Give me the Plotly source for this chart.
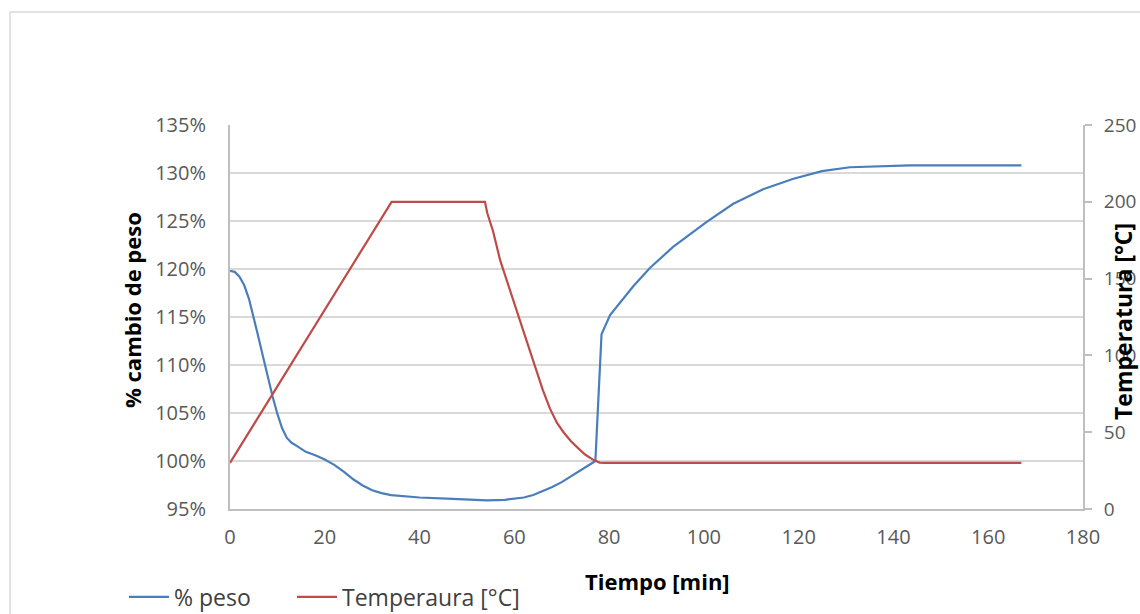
import plotly.graph_objects as go

# % peso series (time in min, %)
t_peso = [0, 1, 2, 3, 4, 5, 6, 7, 8, 9, 10, 11, 12, 13, 14, 16, 18, 20, 22, 24, 26, 28, 30,
          32, 34, 37, 40, 47, 54.2, 58, 61.2, 62, 64, 66, 68, 70, 72, 74, 76, 77.1,
          78.4, 80.2, 85.1, 88.6, 93.5, 100.6, 106.2, 112.5, 118.9, 124.9, 130.8, 137.9,
          143.5, 167.0]
peso = [119.8, 119.7, 119.2, 118.3, 116.9, 115.0, 112.9, 110.8, 108.7, 106.7, 104.9, 103.4,
        102.4, 101.9, 101.6, 100.95, 100.6, 100.15, 99.6, 98.9, 98.1, 97.45, 96.95, 96.65,
        96.45, 96.3, 96.2, 96.05, 95.9, 95.95, 96.1, 96.2, 96.45, 96.85, 97.3, 97.8, 98.4,
        99.05, 99.65, 100.0, 113.2, 115.2, 118.2, 120.1, 122.3, 124.9, 126.8, 128.3, 129.4,
        130.2, 130.6, 130.75, 130.8, 130.8]

# Temperature series (time in min, °C)
t_temp = [0, 34.1, 40, 45, 50, 53.8, 54.3, 55.5, 57, 58.5, 60, 61.5, 63, 64.5, 66, 67.5, 69,
          70.5, 72, 73.5, 75, 76.5, 78, 79, 100, 130, 167.0]
temp = [30, 200, 200, 200, 200, 200, 192.5, 181, 162, 148, 134, 120.5, 106, 91, 77.5, 65.5,
        56, 49.5, 44, 39.5, 35.3, 32.3, 30.2, 30, 30, 30, 30]

x_ticks = [0, 20, 40, 60, 80, 100, 120, 140, 160, 180]
y_ticks = [95, 100, 105, 110, 115, 120, 125, 130, 135]
y_tick_text = [f"{v}%" for v in y_ticks]
y2_ticks = [0, 50, 100, 150, 200, 250]

BLUE = "#4a7ebb"
RED = "#be4b48"
GRID = "#d9d9d9"
AXIS = "#bfbfbf"
TICKC = "#595959"
FONT = "Open Sans"

fig = go.Figure()
fig.add_trace(go.Scatter(x=t_peso, y=peso, mode="lines", name="% peso", legend="legend",
                         line=dict(color=BLUE, width=2.2)))
fig.add_trace(go.Scatter(x=t_temp, y=temp, mode="lines", name="Temperaura [°C]", yaxis="y2",
                         legend="legend2", line=dict(color=RED, width=2.2)))

leg_common = dict(orientation="h", y=-0.229, xanchor="left", yanchor="middle",
                  font=dict(family=FONT, size=23, color="#404040"),
                  bgcolor="rgba(0,0,0,0)", itemwidth=40)

fig.update_layout(
    width=1140, height=614,
    margin=dict(l=230, r=57, t=125, b=105, autoexpand=False),
    paper_bgcolor="white", plot_bgcolor="white",
    font=dict(family=FONT, color=TICKC, size=20),
    showlegend=True,
    legend=dict(x=(124 - 230) / 853, **leg_common),
    legend2=dict(x=(292 - 230) / 853, **leg_common),
    xaxis=dict(range=[0, 180], tickvals=x_ticks, showgrid=False, zeroline=False,
               showline=True, linecolor=AXIS, linewidth=2, ticks="", ticklabelstandoff=9,
               tickfont=dict(family=FONT, size=20, color=TICKC)),
    yaxis=dict(range=[95, 135], tickvals=y_ticks, ticktext=y_tick_text, showgrid=True,
               gridcolor=GRID, gridwidth=2, zeroline=False, showline=True, linecolor=AXIS,
               linewidth=2, ticks="", ticklabelstandoff=18,
               tickfont=dict(family=FONT, size=20, color=TICKC)),
    yaxis2=dict(range=[0, 250], tickvals=y2_ticks, overlaying="y", side="right",
                showgrid=False, zeroline=False, showline=True, linecolor=AXIS, linewidth=2,
                ticks="outside", ticklen=7, tickcolor=AXIS, tickwidth=2, ticklabelstandoff=8,
                tickfont=dict(family=FONT, size=19, color=TICKC)),
    annotations=[
        dict(text="<b>% cambio de peso</b>", xref="paper", yref="paper",
             x=(132 - 230) / 853, y=(509 - 310) / 384, textangle=-90, showarrow=False,
             xanchor="center", yanchor="middle",
             font=dict(family=FONT, size=22, color="black")),
        dict(text="<b>Temperatura [°C]</b>", xref="paper", yref="paper",
             x=(1123 - 230) / 853, y=(509 - 322) / 384, textangle=-90, showarrow=False,
             xanchor="center", yanchor="middle",
             font=dict(family=FONT, size=23, color="black")),
        dict(text="<b>Tiempo [min]</b>", xref="paper", yref="paper",
             x=(657 - 230) / 853, y=(509 - 581) / 384, showarrow=False,
             xanchor="center", yanchor="middle",
             font=dict(family=FONT, size=22, color="black")),
    ],
    shapes=[
        dict(type="line", xref="paper", yref="paper",
             x0=(10 - 230) / 853, x1=(10 - 230) / 853, y0=(509 - 12) / 384, y1=(509 - 700) / 384,
             line=dict(color=GRID, width=1.5)),
        dict(type="line", xref="paper", yref="paper",
             x0=(10 - 230) / 853, x1=(1200 - 230) / 853, y0=(509 - 12) / 384, y1=(509 - 12) / 384,
             line=dict(color=GRID, width=1.5)),
    ],
)

fig.write_html("out.html")
